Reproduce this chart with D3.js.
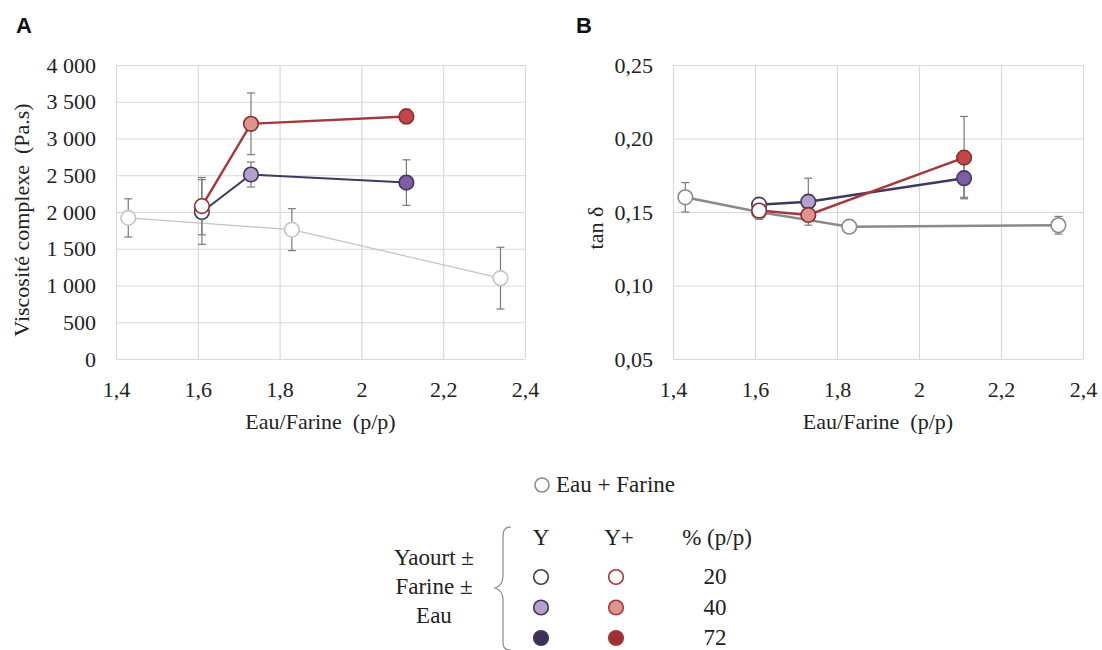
<!DOCTYPE html>
<html><head><meta charset="utf-8">
<script src="https://cdn.jsdelivr.net/npm/d3@7"></script>
<style>body{margin:0;background:#fff}svg{display:block}</style>
</head><body>
<svg id="c" width="1102" height="650"></svg>
<script>
// ---- Data ----
const xTicks = [1.4, 1.6, 1.8, 2.0, 2.2, 2.4];
const xTickLabels = ["1,4", "1,6", "1,8", "2", "2,2", "2,4"];
const yTicksA = [0, 500, 1000, 1500, 2000, 2500, 3000, 3500, 4000];
const yTicksB = [0.05, 0.10, 0.15, 0.20, 0.25];

// Panel A : viscosité complexe (Pa.s)
const efXA = [1.43, 1.83, 2.34];
const efViscA = [1920, 1760, 1100];
const efErrA = [260, 285, 420];
const yX = [1.61, 1.73, 2.11];
const yVisc = [2000, 2510, 2400];
const yViscErr = [440, 170, 310];
const ypX = [1.61, 1.73, 2.11];
const ypVisc = [2080, 3200, 3300];
const ypViscErr = [390, 420, 100];

// Panel B : tan delta
const efXB = [1.43, 1.61, 1.83, 2.34];
const efTanB = [0.160, 0.150, 0.140, 0.141];
const efTanErr = [0.010, 0, 0, 0.006];
const yTan = [0.155, 0.157, 0.173];
const yTanErr = [0, 0.016, 0.013];
const ypTan = [0.151, 0.148, 0.187];
const ypTanErr = [0.006, 0, 0.028];

const pctLabels = ["20", "40", "72"];
const yFills = ["#ffffff", "#b3a1cc", "#7b5ea3"];
const ypFills = ["#ffffff", "#de9590", "#c2464a"];
const yLegendFills = ["#ffffff", "#b3a1cc", "#3e2f58"];
const ypLegendFills = ["#ffffff", "#de9590", "#9c3333"];

// ---- Drawing ----
const svg = d3.select("#c");
const serif = "'Liberation Serif','Times New Roman',serif";
const purple = "#43365f", red = "#a5383a";
const FS = 22;

function panel(o) {
  const g = svg.append("g");
  const x = d3.scaleLinear().domain([1.4, 2.4]).range([o.left, o.right]);
  const y = d3.scaleLinear().domain(o.yDomain).range([o.bottom, o.top]);
  // grid + ticks
  g.append("g").attr("transform", `translate(0,${o.bottom})`)
    .call(d3.axisBottom(x).tickValues(xTicks).tickSize(-(o.bottom - o.top)).tickFormat((d, i) => xTickLabels[i]))
    .call(s => { s.select(".domain").remove();
      s.selectAll("line").attr("stroke", "#d9d9d9").attr("stroke-width", 1.2);
      s.selectAll("text").attr("font-family", serif).attr("font-size", FS).attr("fill", "#222").attr("y", 38).attr("dy", 0); });
  g.append("g").attr("transform", `translate(${o.left},0)`)
    .call(d3.axisLeft(y).tickValues(o.yTicks).tickSize(-(o.right - o.left)).tickFormat(o.fmt))
    .call(s => { s.select(".domain").remove();
      s.selectAll("line").attr("stroke", "#d9d9d9").attr("stroke-width", 1.2);
      s.selectAll("text").attr("font-family", serif).attr("font-size", FS).attr("fill", "#222").attr("x", -20).attr("dy", "0.32em"); });
  // axis titles
  g.append("text").attr("x", (o.left + o.right) / 2).attr("y", 429).attr("text-anchor", "middle")
    .attr("font-family", serif).attr("font-size", FS).attr("fill", "#222").attr("xml:space", "preserve").text("Eau/Farine  (p/p)");
  g.append("text").attr("transform", `translate(${o.ytX},${o.ytY}) rotate(-90)`).attr("text-anchor", "middle")
    .attr("font-family", serif).attr("font-size", FS).attr("fill", "#222").attr("xml:space", "preserve").text(o.yTitle);
  g.append("text").attr("x", o.letterX).attr("y", 33).attr("font-family", "'Liberation Sans',Arial,sans-serif")
    .attr("font-weight", "bold").attr("font-size", 22).attr("fill", "#111").text(o.letter);

  const line = d3.line().x(d => x(d[0])).y(d => y(d[1]));
  function series(xs, vs, errs, lineColor, lw, strokes, fills) {
    const pts = xs.map((xv, i) => [xv, vs[i], errs[i], fills[i], strokes]);
    g.append("path").datum(pts).attr("d", line).attr("fill", "none").attr("stroke", lineColor).attr("stroke-width", lw);
    const eb = g.append("g").attr("stroke", "#7a7a7a").attr("stroke-width", 1.2);
    pts.filter(p => p[2] > 0).forEach(p => {
      const cx = x(p[0]);
      eb.append("line").attr("x1", cx).attr("x2", cx).attr("y1", y(p[1] - p[2])).attr("y2", y(p[1] + p[2]));
      [p[1] - p[2], p[1] + p[2]].forEach(v => eb.append("line").attr("x1", cx - 4).attr("x2", cx + 4).attr("y1", y(v)).attr("y2", y(v)));
    });
    return pts;
  }
  const all = [];
  o.series.forEach(s => all.push(series(...s)));
  all.forEach(pts => pts.forEach(p => {
    g.append("circle").attr("cx", x(p[0])).attr("cy", y(p[1])).attr("r", 7.3)
      .attr("fill", p[3]).attr("stroke", p[4]).attr("stroke-width", 1.6);
  }));
}

const spaceFmt = d => d3.format(",")(d).replace(/,/g, " ");
const commaFmt = d => d3.format(".2f")(d).replace(".", ",");

panel({ left: 116, right: 525, top: 65, bottom: 359, yDomain: [0, 4000], yTicks: yTicksA, fmt: spaceFmt,
  yTitle: "Viscosité complexe  (Pa.s)", ytX: 29, ytY: 220, letter: "A", letterX: 16,
  series: [
    [efXA, efViscA, efErrA, "#c4c4c4", 1.2, "#c4c4c4", ["#fff", "#fff", "#fff"]],
    [yX, yVisc, yViscErr, purple, 2, purple, yFills],
    [ypX, ypVisc, ypViscErr, red, 2.4, "#8f2d2d", ypFills]
  ] });

panel({ left: 673, right: 1083, top: 65, bottom: 359, yDomain: [0.05, 0.25], yTicks: yTicksB, fmt: commaFmt,
  yTitle: "tan δ", ytX: 603, ytY: 228, letter: "B", letterX: 576,
  series: [
    [efXB, efTanB, efTanErr, "#8a8a8a", 2.4, "#8a8a8a", ["#fff", "#fff", "#fff", "#fff"]],
    [yX, yTan, yTanErr, purple, 2.4, purple, yFills],
    [ypX, ypTan, ypTanErr, red, 2.4, "#8f2d2d", ypFills]
  ] });

// ---- Legend ----
const LFS = 23;
const lg = svg.append("g").attr("font-family", serif).attr("font-size", LFS).attr("fill", "#222");
lg.append("circle").attr("cx", 542).attr("cy", 485).attr("r", 7).attr("fill", "#fff").attr("stroke", "#8a8a8a").attr("stroke-width", 1.6);
lg.append("text").attr("x", 556).attr("y", 492).text("Eau + Farine");
lg.append("path").attr("d", "M511,527 C503,527 503,532 503,540 L503,576 C503,582 501,586 495,588 C501,590 503,594 503,600 L503,640 C503,647 504,650 511,650")
  .attr("fill", "none").attr("stroke", "#8a8a8a").attr("stroke-width", 1.2);
["Yaourt ±", "Farine ±", "Eau"].forEach((t, i) =>
  lg.append("text").attr("x", 434).attr("y", 565 + i * 29).attr("text-anchor", "middle").text(t));
[["Y", 541], ["Y+", 619], ["% (p/p)", 717]].forEach(([t, xx]) =>
  lg.append("text").attr("x", xx).attr("y", 545).attr("text-anchor", "middle").text(t));
pctLabels.forEach((p, i) => {
  const cy = 577 + i * 30.5;
  lg.append("circle").attr("cx", 541).attr("cy", cy).attr("r", 7.3).attr("fill", yLegendFills[i]).attr("stroke", purple).attr("stroke-width", 1.6);
  lg.append("circle").attr("cx", 616).attr("cy", cy).attr("r", 7.3).attr("fill", ypLegendFills[i]).attr("stroke", "#a5383a").attr("stroke-width", 1.6);
  lg.append("text").attr("x", 715).attr("y", cy + 7).attr("text-anchor", "middle").text(p);
});
</script>
</body></html>
